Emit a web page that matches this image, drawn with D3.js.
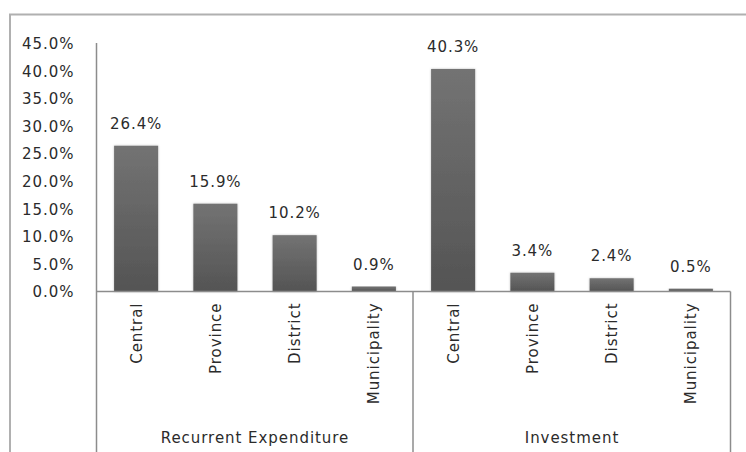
<!DOCTYPE html>
<html>
<head>
<meta charset="utf-8">
<script src="https://cdn.jsdelivr.net/npm/d3@7"></script>
<style>
  html, body { margin: 0; padding: 0; background: #fff; }
  svg text { font-family: "DejaVu Sans", sans-serif; font-size: 15px; letter-spacing: 0.95px; fill: #2b2b2b; }
</style>
</head>
<body>
<svg id="chart" width="746" height="452"></svg>
<script>
// Share of spending by level of government
const groups = ["Recurrent Expenditure", "Investment"];
const levels = ["Central", "Province", "District", "Municipality"];
const recurrentValues = [0.264, 0.159, 0.102, 0.009];
const investmentValues = [0.403, 0.034, 0.024, 0.005];
const yTicks = [0, 0.05, 0.10, 0.15, 0.20, 0.25, 0.30, 0.35, 0.40, 0.45];

const rows = [];
[recurrentValues, investmentValues].forEach((vals, gi) => {
  vals.forEach((v, li) => rows.push({ key: gi + "-" + li, group: groups[gi], level: levels[li], value: v }));
});

const svg = d3.select("#chart");
const W = 746, H = 452;
const plot = { left: 96.5, right: 730.5, top: 43, bottom: 291.5 };

// outer chart frame (extends past the right and bottom edges of the view)
svg.append("rect")
  .attr("x", 10).attr("y", 14.5).attr("width", 800).attr("height", 600)
  .attr("fill", "none").attr("stroke", "#b0b0b0").attr("stroke-width", 2);

const x = d3.scaleBand()
  .domain(rows.map(d => d.key))
  .range([plot.left, plot.right])
  .paddingInner(0.444)
  .paddingOuter(0.222);

const y = d3.scaleLinear().domain([0, 0.45]).range([plot.bottom, plot.top]);

// bar gradient
const defs = svg.append("defs");
const grad = defs.append("linearGradient").attr("id", "barGrad")
  .attr("x1", 0).attr("y1", 0).attr("x2", 0).attr("y2", 1);
grad.append("stop").attr("offset", "0%").attr("stop-color", "#737373");
grad.append("stop").attr("offset", "100%").attr("stop-color", "#545454");
const shadow = defs.append("filter").attr("id", "barShadow")
  .attr("x", "-20%").attr("y", "-10%").attr("width", "140%").attr("height", "120%");
shadow.append("feDropShadow").attr("dx", 0).attr("dy", 0).attr("stdDeviation", 1.2)
  .attr("flood-color", "#000").attr("flood-opacity", 0.25);

// y axis
const yAxis = d3.axisLeft(y).tickValues(yTicks).tickFormat(d3.format(".1%")).tickSize(0).tickPadding(22);
const yg = svg.append("g").attr("transform", `translate(${plot.left},0)`).call(yAxis);
yg.select(".domain").remove();
yg.selectAll("text").attr("font-family", null).attr("font-size", null).attr("fill", null).attr("dy", "0.36em");

svg.append("line")
  .attr("x1", plot.left).attr("x2", plot.left).attr("y1", plot.top).attr("y2", H + 5)
  .attr("stroke", "#8c8c8c").attr("stroke-width", 1.5);

// bars
svg.append("g").selectAll("rect").data(rows).join("rect")
  .attr("x", d => x(d.key))
  .attr("y", d => y(d.value))
  .attr("width", x.bandwidth())
  .attr("height", d => y(0) - y(d.value))
  .attr("fill", "url(#barGrad)")
  .attr("filter", "url(#barShadow)");

// baseline
svg.append("line")
  .attr("x1", plot.left).attr("x2", plot.right).attr("y1", plot.bottom).attr("y2", plot.bottom)
  .attr("stroke", "#8c8c8c").attr("stroke-width", 1.5);

// group separators below the baseline
const groupEdges = [rows.find(d => d.group === groups[1]).key];
svg.append("g").selectAll("line").data(groupEdges).join("line")
  .attr("x1", d => x(d) - x.step() * x.paddingInner() / 2 - 0.5)
  .attr("x2", d => x(d) - x.step() * x.paddingInner() / 2 - 0.5)
  .attr("y1", plot.bottom).attr("y2", H + 5)
  .attr("stroke", "#8c8c8c").attr("stroke-width", 1.5);
svg.append("line")
  .attr("x1", plot.right).attr("x2", plot.right).attr("y1", plot.bottom).attr("y2", H + 5)
  .attr("stroke", "#8c8c8c").attr("stroke-width", 1.5);

// value labels
svg.append("g").selectAll("text").data(rows).join("text")
  .attr("x", d => x(d.key) + x.bandwidth() / 2)
  .attr("y", d => y(d.value) - 17)
  .attr("text-anchor", "middle")
  .text(d => d3.format(".1%")(d.value));

// rotated category labels
svg.append("g").selectAll("text").data(rows).join("text")
  .attr("transform", d => `translate(${x(d.key) + x.bandwidth() / 2},${plot.bottom + 11}) rotate(-90)`)
  .attr("text-anchor", "end")
  .attr("dy", "0.36em")
  .text(d => d.level);

// group labels
svg.append("g").selectAll("text").data(groups).join("text")
  .attr("x", g => {
    const ks = rows.filter(d => d.group === g).map(d => d.key);
    return (x(ks[0]) + x(ks[ks.length - 1]) + x.bandwidth()) / 2;
  })
  .attr("y", 443)
  .attr("text-anchor", "middle")
  .text(g => g);
</script>
</body>
</html>
